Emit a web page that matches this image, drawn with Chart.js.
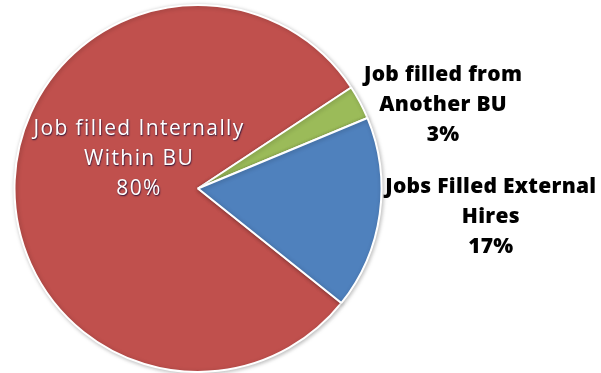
<!DOCTYPE html>
<html>
<head>
<meta charset="utf-8">
<script src="https://cdn.jsdelivr.net/npm/chart.js@4"></script>
<style>
  html, body { margin: 0; padding: 0; background: #fff; }
  #wrap { width: 601px; height: 373px; }
</style>
</head>
<body>
<div id="wrap"><canvas id="pie" width="601" height="373"></canvas></div>
<script>
// data
const categories = [
  ["Job filled Internally", "Within BU"],
  ["Job filled from", "Another BU"],
  ["Jobs Filled External", "Hires"]
]
const shares = [80, 3, 17]
const colors = ["#C0504D", "#9BBB59", "#4F81BD"]

// where each label sits, in units of the pie radius from its centre,
// and how wide its first line should come out
const labelSpots = [
  { ox: -0.325, oy: -0.16, inside: true, firstWidth: 210 },
  { ox: 1.335, oy: -0.455, inside: false, firstWidth: 158 },
  { ox: 1.595, oy: 0.157, inside: false, firstWidth: 211 }
]

const pieLabels = {
  id: "pieLabels",
  afterDatasetsDraw(chart) {
    const ctx = chart.ctx
    const meta = chart.getDatasetMeta(0)
    const total = shares.reduce((a, b) => a + b, 0)
    meta.data.forEach((arc, i) => {
      const spot = labelSpots[i]
      const r = arc.outerRadius
      const cx = arc.x + spot.ox * r
      const cy = arc.y + spot.oy * r
      const lines = categories[i].concat([Math.round(shares[i] / total * 100) + "%"])
      ctx.save()
      ctx.textAlign = "center"
      ctx.textBaseline = "middle"
      if (spot.inside) {
        ctx.font = "21px 'Open Sans', Lato, sans-serif"
        ctx.fillStyle = "#ffffff"
        ctx.shadowColor = "rgba(0,0,50,0.8)"
        ctx.shadowBlur = 1.5
        ctx.shadowOffsetX = 0.6
        ctx.shadowOffsetY = 0.6
      } else {
        ctx.font = "800 21px 'Open Sans', Lato, sans-serif"
        ctx.fillStyle = "#000000"
      }
      // spread letters so the first line matches the picture's width
      ctx.letterSpacing = "0px"
      const w = ctx.measureText(lines[0]).width
      const sp = (spot.firstWidth - w) / (lines[0].length - 1)
      ctx.letterSpacing = sp.toFixed(2) + "px"
      lines.forEach((t, k) => {
        ctx.fillText(t, cx + sp / 2, cy + (k - 1) * 30)
      })
      ctx.restore()
    })
  }
}

const pieShadow = {
  id: "pieShadow",
  beforeDatasetsDraw(chart) {
    const ctx = chart.ctx
    ctx.save()
    ctx.shadowColor = "rgba(0,0,0,0.25)"
    ctx.shadowBlur = 4
    ctx.shadowOffsetX = 1
    ctx.shadowOffsetY = 1
  },
  afterDatasetsDraw(chart) {
    chart.ctx.restore()
  }
}

new Chart(document.getElementById("pie").getContext("2d"), {
  type: "pie",
  data: {
    labels: categories.map(c => c.join(" ")),
    datasets: [{
      data: shares,
      backgroundColor: colors,
      borderColor: "#ffffff",
      borderWidth: 2
    }]
  },
  options: {
    responsive: false,
    animation: false,
    rotation: 128.6,
    layout: { padding: { left: 13, right: 218, top: 4, bottom: 0 } },
    plugins: {
      legend: { display: false },
      tooltip: { enabled: false }
    }
  },
  plugins: [pieShadow, pieLabels]
})
</script>
</body>
</html>
